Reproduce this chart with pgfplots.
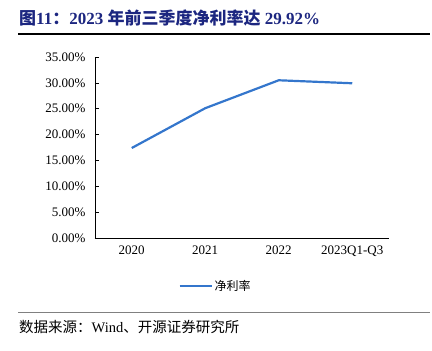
\documentclass[border=0pt]{standalone}
\usepackage{pgfplots}
\pgfplotsset{compat=1.18}
\usepackage{fontspec}
\setmainfont{Liberation Serif}
\newfontfamily\cjk{Noto Sans CJK SC}
\definecolor{lineblue}{RGB}{52,118,204}
\definecolor{titlenavy}{RGB}{28,38,128}
\begin{document}
\begin{tikzpicture}[x=1pt,y=1pt]
\path[use as bounding box] (0,0) rectangle (432,351);
% title
\node[anchor=west,inner sep=0,text=titlenavy,font=\fontsize{17}{19}\selectfont\bfseries] at (19,333)
  {{\cjk\bfseries 图}11{\cjk\bfseries ：}2023 {\cjk\bfseries 年前三季度净利率达} 29.92\%};
\draw[black,line width=1.1pt] (18,317) -- (430,317);
% footer
\draw[gray,line width=1pt] (18,38) -- (430,38);
\node[anchor=west,inner sep=0,font=\fontsize{14.5}{16}\selectfont] at (19,24)
  {{\cjk 数据来源：}Wind{\cjk 、开源证券研究所}};
\begin{axis}[
  at={(95pt,113pt)}, anchor=south west,
  scale only axis, width=294pt, height=181pt,
  xmin=-0.5, xmax=3.5, ymin=0, ymax=35,
  axis x line*=bottom, axis y line*=left,
  axis line style={-, line width=0.8pt},
  tick style={black, line width=0.6pt},
  tick align=inside,
  major tick length=4pt,
  xtick={0,1,2,3},
  xticklabels={2020,2021,2022,2023Q1-Q3},
  x tick style={draw=none},
  extra x ticks={0.5,1.5,2.5,3.5},
  extra x tick labels={},
  extra x tick style={tick style={black,line width=0.6pt}, major tick length=4pt},
  ytick={0,5,...,35},
  yticklabel={\pgfmathprintnumber[fixed,fixed zerofill,precision=2]{\tick}\%},
  /pgf/number format/assume math mode=true,
  ticklabel style={font=\fontsize{13}{15}\selectfont},
  yticklabel style={xshift=-6pt},
  xticklabel style={yshift=-4pt},
  legend style={draw=none, at={(0.41,-0.265)}, anchor=center, font=\fontsize{12}{14}\selectfont\cjk, inner sep=0pt},
  legend image code/.code={\draw[#1] (0pt,0pt) -- (32pt,0pt);},
]
\addplot[lineblue, line width=2.2pt] coordinates {(0,17.4) (1,25.1) (2,30.5) (3,29.92)};
\addlegendentry{净利率}
\end{axis}
\end{tikzpicture}
\end{document}
